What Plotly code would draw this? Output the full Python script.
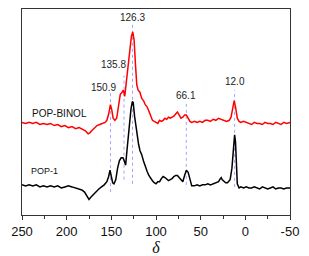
import plotly.graph_objects as go

# Chemical shift (ppm) and intensity (arbitrary units)
binol_shift = [250, 246, 242, 238, 234, 230, 226, 222, 218, 214, 210, 206, 202, 198, 194, 190, 186, 182, 179, 176,
               174, 172, 169, 166, 163, 160, 157, 155, 153, 151, 149.5, 148, 146, 144, 142, 140, 138, 136.5, 135, 133,
               131, 129, 127.5, 126, 124.5, 123, 121.5, 120, 118, 116, 114, 112, 110, 108, 106, 104, 102, 100, 98, 96,
               94, 92, 90, 88, 86, 84, 82, 80, 78, 76, 74, 72, 70, 68, 66, 64, 62, 60, 57, 54,
               51, 48, 45, 42, 39, 36, 33, 30, 27, 24, 21, 18, 16, 14, 12.5, 11, 9, 7, 5, 2,
               -1, -4, -7, -10, -13, -16, -19, -22, -25, -28, -31, -34, -37, -40, -43, -46, -50]
binol_int = [89, 88, 89, 88, 89, 87, 88, 87, 88, 86, 87, 85, 86, 84, 85, 83, 84, 82, 81, 78,
             79, 81, 84, 86, 87, 88, 89, 91, 97, 106, 101, 93, 91, 93, 104, 116, 118, 120, 114, 130,
             150, 165, 172, 176, 168, 145, 125, 120, 118, 112, 110, 106, 104, 100, 95, 91, 90, 89, 88, 91,
             90, 91, 93, 92, 94, 93, 94, 95, 97, 99, 96, 93, 94, 96, 96, 93, 90, 89, 90, 89,
             90, 89, 91, 91, 90, 92, 91, 93, 92, 91, 90, 91, 94, 103, 110, 104, 93, 90, 89, 90,
             89, 88, 87, 89, 88, 88, 87, 89, 88, 88, 87, 89, 88, 87, 89, 88, 89]

pop1_shift = [250, 246, 242, 238, 234, 230, 226, 222, 218, 214, 210, 206, 202, 198, 194, 190, 186, 183, 180, 177,
              175, 173, 170, 167, 164, 161, 158, 155, 153, 151.5, 150, 148.5, 147, 145, 143, 141, 139, 137, 135.5, 134,
              132.5, 131, 129.5, 128, 126.5, 125.5, 124, 122.5, 121, 119.5, 118, 116, 114, 112, 110, 108, 106, 104, 102, 100,
              98, 96, 94, 92, 90, 88, 86, 84, 82, 80, 78, 76, 74, 72, 70, 68, 66, 64, 62, 60,
              57, 54, 51, 48, 45, 42, 39, 36, 33, 30, 28, 27, 26, 24, 22, 20, 17, 15, 13.5, 12,
              11, 10, 9, 7, 5, 2, -1, -4, -7, -10, -13, -16, -19, -22, -25, -28, -31, -34, -37, -40,
              -43, -46, -50]
pop1_int = [29, 28, 29, 28, 29, 27, 28, 27, 28, 27, 28, 26, 27, 28, 27, 26, 25, 24, 22, 18,
            15, 17, 20, 23, 25, 27, 29, 32, 37, 43, 38, 31, 30, 34, 45, 52, 55, 55, 52, 48,
            62, 78, 92, 102, 109, 108, 95, 85, 75, 68, 62, 58, 52, 46, 42, 38, 35, 33, 31, 30,
            32, 32, 35, 37, 36, 34, 33, 34, 35, 37, 38, 38, 36, 33, 32, 38, 43, 41, 35, 28,
            28, 29, 28, 29, 29, 30, 29, 30, 31, 32, 35, 36, 34, 32, 31, 31, 34, 45, 65, 77,
            70, 45, 30, 26, 27, 26, 27, 26, 26, 27, 26, 25, 27, 26, 25, 26, 27, 25, 26, 26,
            25, 26, 26]

peak_labels = ["150.9", "135.8", "126.3", "66.1", "12.0"]
peak_pos = [150.9, 135.8, 126.3, 66.1, 12.0]
line_top = [117, 134, 184, 107, 120]
line_bottom = [22, 34, 30, 29, 27]
label_y = [123, 145, 190, 115, 128]
label_shift = [-7, -11, 0, 0, 0]

tick_vals = [250, 200, 150, 100, 50, 0, -50]
tick_text = ["250", "200", "150", "100", "50", "0", "-50"]

fig = go.Figure()
fig.add_trace(go.Scatter(x=binol_shift, y=binol_int, mode="lines",
                         line=dict(color="#ff0000", width=1.5), showlegend=False))
fig.add_trace(go.Scatter(x=pop1_shift, y=pop1_int, mode="lines",
                         line=dict(color="#000000", width=1.5), showlegend=False))

for p, t, b, lab, ly, sh in zip(peak_pos, line_top, line_bottom, peak_labels, label_y, label_shift):
    fig.add_shape(type="line", x0=p, x1=p, y0=b, y1=t, xref="x", yref="y",
                  line=dict(color="#8c8cff", width=0.8, dash="dot"), layer="below")
    fig.add_annotation(x=p, y=ly, text=lab, showarrow=False, xshift=sh,
                       font=dict(family="Liberation Sans, Arial", size=10, color="#222"))

fig.add_annotation(x=241, y=98, text="POP-BINOL", showarrow=False, xanchor="left",
                   font=dict(family="Liberation Sans, Arial", size=10, color="#111"))
fig.add_annotation(x=242, y=42, text="POP-1", showarrow=False, xanchor="left",
                   font=dict(family="Liberation Sans, Arial", size=9, color="#111"))

# The page body has an 8px default margin, so the figure is sized to fit inside it
fig.update_layout(
    width=301, height=248,
    margin=dict(l=14, r=19, t=1, b=41),
    paper_bgcolor="white", plot_bgcolor="white",
    xaxis=dict(range=[250, -50], tickvals=tick_vals, ticktext=tick_text, automargin=False,
               ticks="outside", ticklen=4, tickcolor="#333", tickwidth=1,
               showline=True, linecolor="#333", linewidth=1, mirror=True,
               showgrid=False, zeroline=False,
               minor=dict(ticks="outside", ticklen=3, dtick=25, tick0=0, tickcolor="#333", showgrid=False),
               tickfont=dict(family="Liberation Sans, Arial", size=13, color="#111"),
               title=dict(text="δ", font=dict(family="Liberation Serif, Times New Roman", size=16, color="#111",
                                              style="italic"),
                          standoff=6)),
    yaxis=dict(range=[0, 198], showticklabels=False, ticks="", showgrid=False, zeroline=False, automargin=False,
               showline=True, linecolor="#333", linewidth=1, mirror=True),
)

fig.write_html("out.html")
